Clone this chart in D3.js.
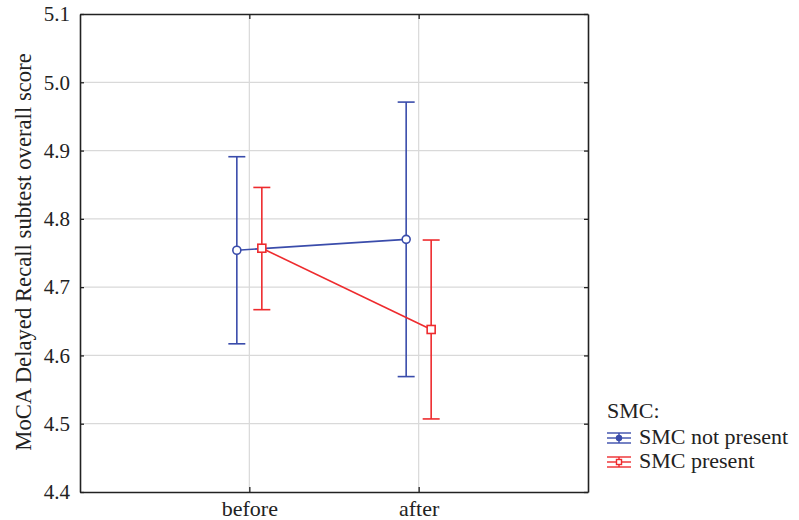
<!DOCTYPE html>
<html>
<head>
<meta charset="utf-8">
<script src="https://cdn.jsdelivr.net/npm/d3@7"></script>
<style>
  body { margin: 0; background: #fff; }
  svg { display: block; }
  svg text { font-family: "Liberation Serif", "Times New Roman", serif !important; }
</style>
</head>
<body>
<div id="chart"></div>
<script>
const categories = ["before", "after"];
const yTicks = [4.4, 4.5, 4.6, 4.7, 4.8, 4.9, 5.0, 5.1];

const seriesNames = ["SMC not present", "SMC present"];
const notPresentMean = [4.754, 4.770];
const notPresentLow = [4.617, 4.569];
const notPresentHigh = [4.891, 4.971];
const presentMean = [4.757, 4.638];
const presentLow = [4.667, 4.507];
const presentHigh = [4.846, 4.769];

const colors = ["#3a4cab", "#ee2b2e"];

(function () {
  const width = 799, height = 520;
  const margin = { top: 14, right: 211, bottom: 28, left: 80 };
  const innerW = width - margin.left - margin.right;
  const innerH = height - margin.top - margin.bottom;

  const svg = d3.select("#chart").append("svg")
    .attr("width", width)
    .attr("height", height);

  const g = svg.append("g").attr("transform", `translate(${margin.left},${margin.top})`);

  const x = d3.scalePoint().domain(categories).range([0, innerW]).padding(1);
  const y = d3.scaleLinear().domain([4.4, 5.1]).range([innerH, 0]);
  const offset = d3.scalePoint().domain(seriesNames).range([-12.5, 12.5]);

  // grid
  g.append("g").selectAll("line").data(yTicks.slice(1, -1)).enter().append("line")
    .attr("x1", 0).attr("x2", innerW)
    .attr("y1", d => y(d)).attr("y2", d => y(d))
    .attr("stroke", "#d9d9d9").attr("stroke-width", 1.2);
  g.append("g").selectAll("line").data(categories).enter().append("line")
    .attr("x1", d => x(d)).attr("x2", d => x(d))
    .attr("y1", 0).attr("y2", innerH)
    .attr("stroke", "#d9d9d9").attr("stroke-width", 1.2);

  // axes
  const axLeft = g.append("g")
    .call(d3.axisLeft(y).tickValues(yTicks).tickFormat(d3.format(".1f")).tickSizeInner(-4).tickSizeOuter(0).tickPadding(10));
  const axRight = g.append("g").attr("transform", `translate(${innerW},0)`)
    .call(d3.axisRight(y).tickValues(yTicks).tickFormat("").tickSizeInner(-4).tickSizeOuter(0));
  const axBottom = g.append("g").attr("transform", `translate(0,${innerH})`)
    .call(d3.axisBottom(x).tickSizeInner(-5).tickSizeOuter(0).tickPadding(8));
  const axTop = g.append("g")
    .call(d3.axisTop(x).tickFormat("").tickSizeInner(-5).tickSizeOuter(0));

  [axLeft, axRight, axBottom, axTop].forEach(a => {
    a.select(".domain").attr("stroke", "#222").attr("stroke-width", 1.6);
    a.selectAll(".tick line").attr("stroke", "#222").attr("stroke-width", 1.3);
    a.selectAll("text").style("font-size", "21px").attr("fill", "#222");
  });
  axBottom.selectAll("text").style("font-size", "22px");

  // y title
  svg.append("text")
    .attr("transform", `translate(31,${margin.top + innerH / 2 - 1}) rotate(-90)`)
    .attr("text-anchor", "middle")
    .style("font-size", "22.7px")
    .attr("fill", "#222")
    .text("MoCA Delayed Recall subtest overall score");

  const series = [
    { name: seriesNames[0], mean: notPresentMean, low: notPresentLow, high: notPresentHigh, color: colors[0], marker: "circle" },
    { name: seriesNames[1], mean: presentMean, low: presentLow, high: presentHigh, color: colors[1], marker: "square" }
  ];

  const cap = 8.5;
  series.forEach(s => {
    const pts = categories.map((c, i) => ({ x: x(c) + offset(s.name), m: s.mean[i], lo: s.low[i], hi: s.high[i] }));
    const sg = g.append("g").attr("stroke", s.color).attr("fill", "none").attr("stroke-width", 1.6);

    sg.append("path").datum(pts)
      .attr("d", d3.line().x(d => d.x).y(d => y(d.m)));

    pts.forEach(p => {
      sg.append("line").attr("x1", p.x).attr("x2", p.x).attr("y1", y(p.lo)).attr("y2", y(p.hi));
      sg.append("line").attr("x1", p.x - cap).attr("x2", p.x + cap).attr("y1", y(p.lo)).attr("y2", y(p.lo));
      sg.append("line").attr("x1", p.x - cap).attr("x2", p.x + cap).attr("y1", y(p.hi)).attr("y2", y(p.hi));
      if (s.marker === "circle") {
        sg.append("circle").attr("cx", p.x).attr("cy", y(p.m)).attr("r", 4).attr("fill", "#fff");
      } else {
        sg.append("rect").attr("x", p.x - 4).attr("y", y(p.m) - 4).attr("width", 8).attr("height", 8).attr("fill", "#fff");
      }
    });
  });

  // legend
  const lg = svg.append("g").attr("transform", "translate(607,0)");
  lg.append("text").attr("x", 0).attr("y", 418).style("font-size", "22px").attr("fill", "#222").text("SMC:");
  series.forEach((s, i) => {
    const cy = 438 + i * 24;
    const ig = lg.append("g").attr("stroke", s.color).attr("stroke-width", 1.4).attr("fill", "none");
    [-5, 0, 5].forEach(dy => ig.append("line").attr("x1", 0).attr("x2", 24).attr("y1", cy + dy).attr("y2", cy + dy));
    ig.append("line").attr("x1", 12).attr("x2", 12).attr("y1", cy - 5).attr("y2", cy + 5);
    if (s.marker === "circle") {
      ig.append("circle").attr("cx", 12).attr("cy", cy).attr("r", 2.5).attr("fill", s.color);
    } else {
      ig.append("rect").attr("x", 9.5).attr("y", cy - 2.5).attr("width", 5).attr("height", 5).attr("fill", "#fff");
    }
    lg.append("text").attr("x", 32).attr("y", cy + 6).style("font-size", "22px").attr("fill", "#222").text(s.name);
  });
})();
</script>
</body>
</html>
